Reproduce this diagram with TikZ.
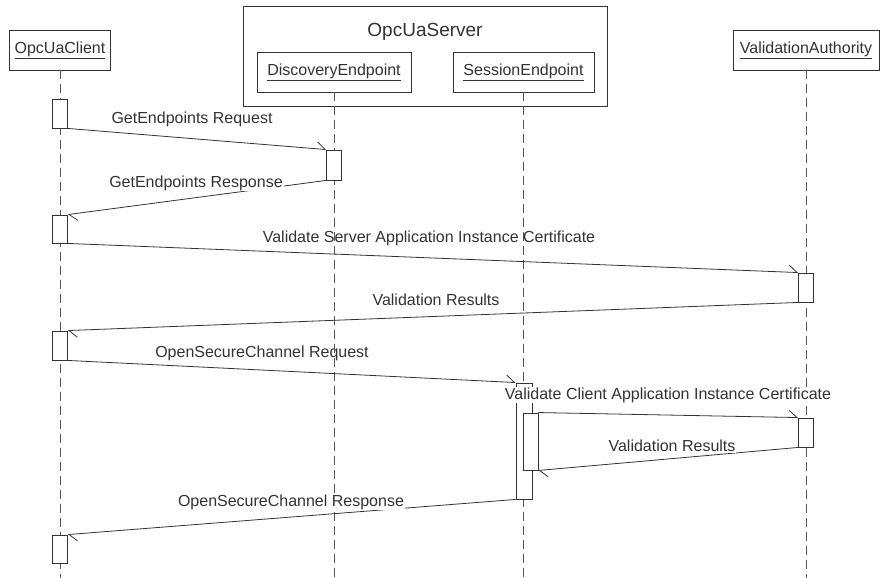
\documentclass[tikz,border=0pt]{standalone}
\usepackage{fontspec}
\setmainfont{Liberation Sans}
\usetikzlibrary{arrows.meta}
\definecolor{linec}{HTML}{333333}
\definecolor{lifec}{HTML}{555555}
\definecolor{txtc}{HTML}{333333}
\begin{document}
\begin{tikzpicture}[x=1pt,y=-1pt,
  every node/.style={font=\fontsize{16}{19}\selectfont, text=txtc},
  obj/.style={draw=linec, line width=0.9pt, fill=white, minimum height=40pt, inner sep=0pt},
  act/.style={draw=linec, line width=0.9pt, fill=white, minimum width=15pt, inner sep=0pt},
  life/.style={draw=lifec, line width=1pt, dash pattern=on 9pt off 5pt},
  msg/.style={draw=linec, line width=0.8pt, -{Straight Barb[left,length=8pt,width=14pt]}},
  lbl/.style={inner sep=1pt},
  lblw/.style={inner sep=1pt, fill=white}]
\useasboundingbox (0,0) rectangle (884,578);
% server container
\node[draw=linec, line width=0.9pt, minimum width=364pt, minimum height=100pt, inner sep=0pt] (srv) at (425,56) {};
\node (srvt) at (425,32) {\fontsize{19}{22}\selectfont OpcUaServer};
% object boxes
\node[obj, minimum width=101pt] (cl) at (60,50) {\underline{OpcUaClient}};
\node[obj, minimum width=154pt] (de) at (334,72) {\underline{DiscoveryEndpoint}};
\node[obj, minimum width=141pt] (se) at (523.5,72) {\underline{SessionEndpoint}};
\node[obj, minimum width=146pt] (va) at (806,50) {\underline{ValidationAuthority}};
% lifeline ends
\coordinate (clb) at (60,578);
\coordinate (deb) at (334,578);
\coordinate (seb) at (523.5,578);
\coordinate (vab) at (806,578);
\draw[life] (cl.south) -- (clb);
\draw[life] (de.south) -- (deb);
\draw[life] (se.south) -- (seb);
\draw[life] (va.south) -- (vab);
% activations
\node[act, minimum height=29pt] (c1) at (60,113.5) {};
\node[act, minimum height=30pt] (d1) at (334,165) {};
\node[act, minimum height=28pt] (c2) at (60,229) {};
\node[act, minimum height=29pt] (v1) at (806,287.5) {};
\node[act, minimum height=29pt] (c3) at (60,345.5) {};
\node[act, minimum height=116pt, minimum width=16pt] (s1) at (524,441) {};
\node[act, minimum height=57pt] (s2) at (530.5,441.5) {};
\node[act, minimum height=29pt] (v2) at (806,432.5) {};
\node[act, minimum height=28pt] (c4) at (60,549) {};
% messages
\draw[msg] (c1.south east) -- (d1.north west);
\draw[msg] (d1.south west) -- (c2.north east);
\draw[msg] (c2.south east) -- (v1.north west);
\draw[msg] (v1.south west) -- (c3.north east);
\draw[msg] (c3.south east) -- (s1.north west);
\draw[msg] (s2.north east) -- (v2.north west);
\draw[msg] (v2.south west) -- (s2.south east);
\draw[msg] (s1.south west) -- (c4.north east);
% labels
\node[lbl] (l1) at (192,119) {GetEndpoints Request};
\node[lblw] (l2) at (196,183) {GetEndpoints Response};
\node[lbl] (l3) at (429,238) {Validate Server Application Instance Certificate};
\node[lbl] (l4) at (436,300) {Validation Results};
\node[lbl] (l5) at (262,353) {OpenSecureChannel Request};
\node[lblw] (l6) at (668,395) {Validate Client Application Instance Certificate};
\node[lblw] (l7) at (672,446) {Validation Results};
\node[lblw] (l8) at (291,502) {OpenSecureChannel Response};
\end{tikzpicture}
\end{document}
